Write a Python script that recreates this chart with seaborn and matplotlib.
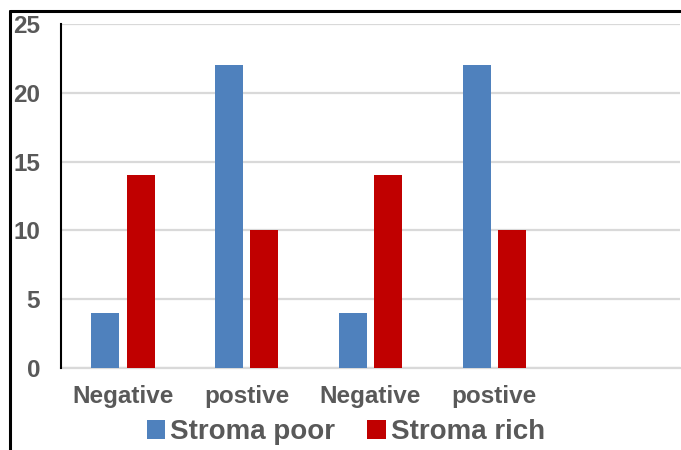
import matplotlib
matplotlib.use("Agg")
import matplotlib.pyplot as plt
from matplotlib.lines import Line2D
import seaborn as sns
import pandas as pd

# Chart data
groups = [0, 1, 2, 3]
categories = ["Negative", "postive", "Negative", "postive"]
stroma_poor = [4, 22, 4, 22]
stroma_rich = [14, 10, 14, 10]
series_names = ["Stroma poor", "Stroma rich"]
yticks = [0, 5, 10, 15, 20, 25]

colors = {"Stroma poor": "#4f81bd", "Stroma rich": "#c00000"}
text_gray = "#595959"
grid_gray = "#d9d9d9"

df = pd.DataFrame({
    "group": groups * 2,
    "value": stroma_poor + stroma_rich,
    "series": [series_names[0]] * len(groups) + [series_names[1]] * len(groups),
})

sns.set_theme(style="white")
plt.rcParams["font.family"] = ["Liberation Sans", "DejaVu Sans"]
plt.rcParams["font.weight"] = "bold"

fig = plt.figure(figsize=(6.81, 4.5), dpi=100)
ax = fig.add_axes([0.0896, 0.1822, 0.9089, 0.7645])

sns.barplot(data=df, x="group", y="value", hue="series", order=groups,
            hue_order=series_names, palette=colors, width=0.573, gap=0.21,
            linewidth=0, saturation=1, ax=ax, legend=True, zorder=3)

ax.set_xlim(-0.5, 4.5)
ax.set_ylim(0, 25)
ax.set_yticks(yticks)
ax.set_yticklabels([str(v) for v in yticks], fontsize=17.5, fontweight="bold",
                   color=text_gray)
ax.set_xticks(groups)
ax.set_xticklabels(categories, fontsize=17.5, fontweight="bold", color=text_gray)
ax.tick_params(axis="y", length=0, pad=15)
ax.tick_params(axis="x", length=0, pad=12)
ax.set_xlabel("")
ax.set_ylabel("")

ax.yaxis.grid(True, color=grid_gray, linewidth=1.6, zorder=0)
ax.set_axisbelow(True)
for side in ["top", "right"]:
    ax.spines[side].set_visible(False)
ax.spines["left"].set_color("black")
ax.spines["left"].set_linewidth(1.5)
ax.spines["left"].set_zorder(4)
ax.spines["bottom"].set_color(grid_gray)
ax.spines["bottom"].set_linewidth(1.6)

handles, labels = ax.get_legend_handles_labels()
ax.get_legend().remove()
fig.legend(handles, labels, loc="center", bbox_to_anchor=(0.508, 0.04),
           ncol=2, frameon=False, handlelength=0.66, handleheight=0.66,
           handletextpad=0.18, columnspacing=1.15,
           prop={"size": 20, "weight": "bold"}, labelcolor=text_gray)

# Outer frame lines (top and left)
fig.add_artist(Line2D([0.014, 0.9985], [0.9756, 0.9756], color="black",
                      linewidth=2.2, transform=fig.transFigure))
fig.add_artist(Line2D([0.014, 0.014], [0.9756, 0.0], color="black",
                      linewidth=2.2, transform=fig.transFigure))

fig.savefig("out.png", dpi=100)
